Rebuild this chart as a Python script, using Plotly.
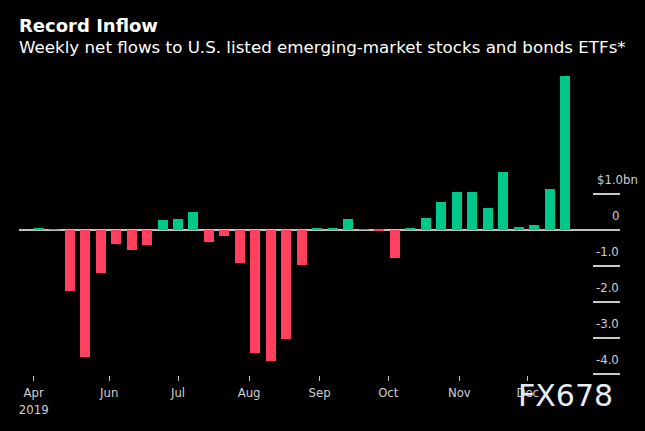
import plotly.graph_objects as go

# ---- data ----
week_index = list(range(35))
flows_bn = [0.06, 0.02, -1.69, -3.53, -1.19, -0.39, -0.56, -0.42, 0.28, 0.31,
            0.50, -0.33, -0.18, -0.91, -3.41, -3.63, -3.02, -0.96, 0.06, 0.06,
            0.31, 0.02, -0.02, -0.77, 0.06, 0.33, 0.78, 1.06, 1.06, 0.62,
            1.60, 0.08, 0.14, 1.15, 4.27]
month_tick_pos = [-0.32, 4.56, 9.0, 13.59, 18.15, 22.58, 27.17, 31.59]
month_tick_labels = ["Apr<br>2019", "Jun", "Jul", "Aug", "Sep", "Oct", "Nov", "Dec"]
y_tick_vals = [1, 0, -1, -2, -3, -4]
y_tick_labels = ["$1.0bn", "0", "-1.0", "-2.0", "-3.0", "-4.0"]

title = "Record Inflow"
subtitle = "Weekly net flows to U.S. listed emerging-market stocks and bonds ETFs*"

GREEN = "#00c78a"
RED = "#ff405f"
colors = [GREEN if v >= 0 else RED for v in flows_bn]

FONT = "DejaVu Sans Condensed, DejaVu Sans, sans-serif"
FONT_W = "DejaVu Sans, sans-serif"

fig = go.Figure()
fig.add_trace(go.Bar(x=week_index, y=flows_bn, marker_color=colors,
                     marker_line_width=0, width=0.646))

fig.update_layout(
    width=645, height=431,
    paper_bgcolor="#000000", plot_bgcolor="#000000",
    margin=dict(l=19, r=25, t=70, b=56),
    showlegend=False,
    bargap=0,
    font=dict(family=FONT, color="#cfcfcf", size=13),
)
fig.update_xaxes(
    range=[-1.27, 37.55],
    tickmode="array", tickvals=month_tick_pos, ticktext=month_tick_labels,
    ticks="outside", ticklen=5, tickwidth=1, tickcolor="#bdbdbd",
    showgrid=False, zeroline=False, showline=False,
    tickfont=dict(family=FONT, size=13, color="#cfcfcf"),
)
fig.update_yaxes(
    range=[-4.03, 4.444],
    side="right",
    tickmode="array", tickvals=[v for v in y_tick_vals if v != 0],
    ticks="inside", ticklen=27, tickwidth=1.5, tickcolor="#c8c8c8",
    showticklabels=False, showgrid=False, showline=False,
    zeroline=True, zerolinecolor="#c0c0c0", zerolinewidth=1.5,
)

# y tick labels placed above their tick lines
for v, lab in zip(y_tick_vals, y_tick_labels):
    if lab.startswith("$"):
        fig.add_annotation(x=1, xref="paper", y=v, yref="y", text=lab,
                           showarrow=False, xanchor="left", yanchor="middle",
                           xshift=-25, yshift=14,
                           font=dict(family=FONT, size=13, color="#cfcfcf"))
    else:
        fig.add_annotation(x=1, xref="paper", y=v, yref="y", text=lab,
                           showarrow=False, xanchor="right", yanchor="middle",
                           xshift=1, yshift=14,
                           font=dict(family=FONT, size=13, color="#cfcfcf"))

fig.add_annotation(x=0, xref="paper", y=1.1475, yref="paper", text="<b>" + title + "</b>",
                   showarrow=False, xanchor="left", yanchor="middle", xshift=-2,
                   font=dict(family=FONT_W, size=18, color="#ffffff"))
fig.add_annotation(x=0, xref="paper", y=1.077, yref="paper", text=subtitle,
                   showarrow=False, xanchor="left", yanchor="middle", xshift=-2,
                   font=dict(family=FONT_W, size=16.7, color="#ffffff"))

# watermark (overlaps the "Dec" label in the reference as well)
fig.add_annotation(x=(565 - 19) / 601, xref="paper", y=(375 - 395) / 305, yref="paper",
                   text="FX678", showarrow=False, xanchor="center", yanchor="middle",
                   font=dict(family=FONT_W, size=30, color="#e6ecf5"))

fig.write_html("out.html",
               config={"displayModeBar": False},
               post_script="document.body.style.margin='0';document.body.style.background='#000';")
